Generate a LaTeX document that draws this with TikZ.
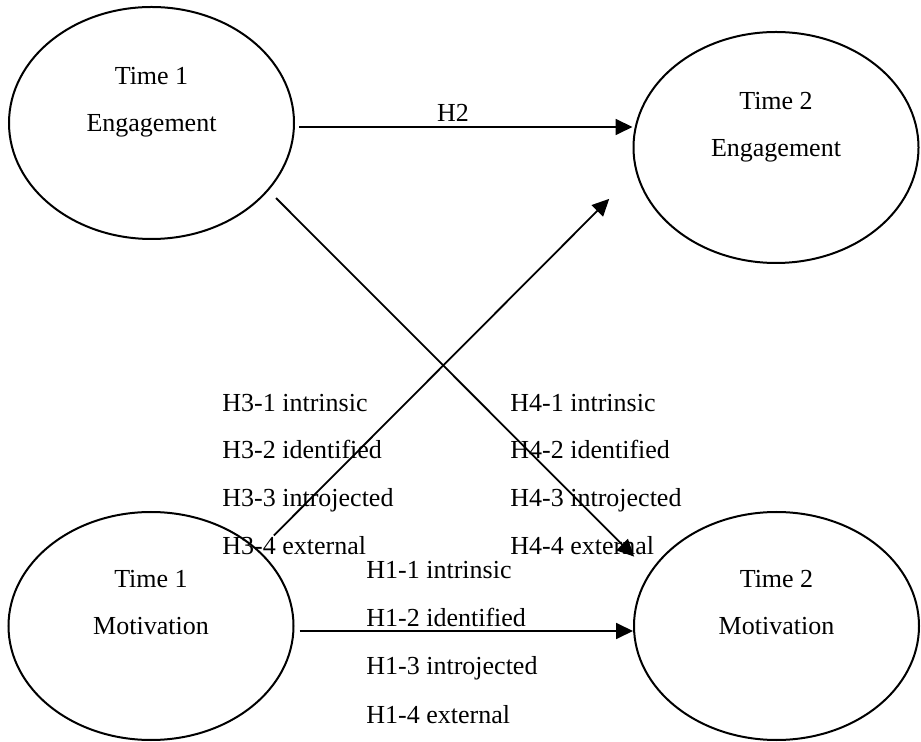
\documentclass[tikz,border=0pt]{standalone}
\usepackage{fontspec}
\setmainfont{Liberation Serif}
\usetikzlibrary{shapes,arrows.meta}

\tikzset{
  latent/.style={shape=ellipse,draw=black,align=center,line width=1pt,minimum width=142.5pt,inner sep=0pt,font=\fontsize{13}{23.5}\selectfont},
  hyp/.style={anchor=base west,inner sep=0pt,font=\fontsize{13}{15}\selectfont},
  effect/.style={-{Triangle[length=8.5pt,width=8pt]},draw=black,line width=0.9pt}
}

\begin{document}
\begin{tikzpicture}[x=0.5pt,y=-0.5pt]
\useasboundingbox (0,0) rectangle (921,742);

\node[latent,minimum height=116pt] (t1eng) at (151.5,123) {Time 1\\Engagement\\\mbox{}};
\node[latent,minimum height=115.5pt] (t2eng) at (776,147.5) {Time 2\\Engagement\\\mbox{}};
\node[latent,minimum height=114pt] (t1mot) at (151,626) {Time 1\\Motivation\\\mbox{}};
\node[latent,minimum height=114pt] (t2mot) at (776.5,626) {Time 2\\Motivation\\\mbox{}};

\node[hyp,anchor=base] (h2) at (453,122) {H2};

\node[hyp] (h31) at (222,412) {H3-1 intrinsic};
\node[hyp] (h32) at (222,459) {H3-2 identified};
\node[hyp] (h33) at (222,507) {H3-3 introjected};
\node[hyp] (h34) at (222,555) {H3-4 external};

\node[hyp] (h41) at (510,412) {H4-1 intrinsic};
\node[hyp] (h42) at (510,459) {H4-2 identified};
\node[hyp] (h43) at (510,507) {H4-3 introjected};
\node[hyp] (h44) at (510,555) {H4-4 external};

\node[hyp] (h11) at (366,579) {H1-1 intrinsic};
\node[hyp] (h12) at (366,627) {H1-2 identified};
\node[hyp] (h13) at (366,675) {H1-3 introjected};
\node[hyp] (h14) at (366,723) {H1-4 external};

\coordinate (h2s) at ([xshift=2pt,yshift=-2pt]t1eng.east);
\coordinate (h1s) at ([xshift=2.5pt,yshift=-2.5pt]t1mot.east);

\draw [effect] (h2s) -- (h2s -| t2eng.west);
\draw [effect] (h1s) -- (h1s -| t2mot.west);
\draw [effect,shorten <=10.5pt,shorten >=18.8pt] (t1mot.35.8) -- (t2eng.190.6);
\draw [effect,shorten <=5.3pt,shorten >=11pt] (t1eng.-30.8) -- (t2mot.157.4);
\end{tikzpicture}
\end{document}
